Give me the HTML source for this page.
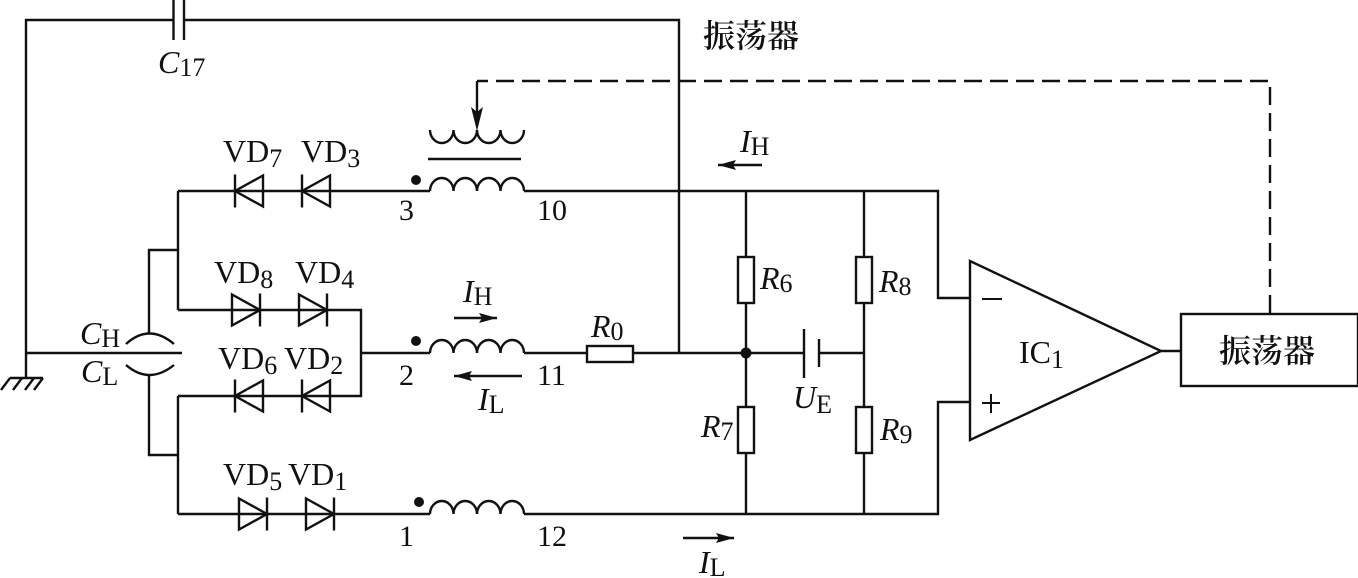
<!DOCTYPE html>
<html><head><meta charset="utf-8"><style>
html,body{margin:0;padding:0;background:#fff;width:1358px;height:578px;overflow:hidden}
svg{display:block}
text{font-family:"Liberation Serif","Noto Serif CJK SC",serif;font-size:30px;fill:#111}
.i{font-style:italic}
.s{font-size:26px}
.c{font-size:32px}
.v{font-size:32px}
</style></head><body>
<svg width="1358" height="578" viewBox="0 0 1358 578" xmlns="http://www.w3.org/2000/svg">
<defs>
<g id="dr"><path d="M0,-15.5V15.5L28,0Z" fill="none"/><path d="M28,-16.5V16.5" /></g>
<g id="dl"><path d="M28,-15.5V15.5L0,0Z" fill="none"/><path d="M0,-16.5V16.5"/></g>
</defs>
<g fill="none" stroke="#111" stroke-width="2.4">
<!-- top wire and capacitor C17 -->
<path d="M26,378V20H173M185,20H679V353"/>
<path d="M173.500,0V40M184,0V40"/>
<!-- ground -->
<path d="M26,353H182M10,378H43M10,378L1,390M22,378L13,390M34,378L25,390M43,378L34,390"/>
<!-- CH CL -->
<path d="M126,344Q149,323 174,344M126,365Q149,385 174,365"/>
<path d="M149,333V250H178M178,191V310M149,374V455H178M178,396V514"/>
<!-- rails -->
<path d="M178,191H430M178,310H361V396H178M361,353H430M178,514H430"/>
<!-- inductors -->
<path d="M430,191A11.750,13 0 0 1 453.500,191A11.750,13 0 0 1 477,191A11.750,13 0 0 1 500.500,191A11.750,13 0 0 1 524,191"/>
<path d="M430,353A11.750,13 0 0 1 453.500,353A11.750,13 0 0 1 477,353A11.750,13 0 0 1 500.500,353A11.750,13 0 0 1 524,353"/>
<path d="M430,514A11.750,13 0 0 1 453.500,514A11.750,13 0 0 1 477,514A11.750,13 0 0 1 500.500,514A11.750,13 0 0 1 524,514"/>
<path d="M430,130A11.750,13 0 0 0 453.500,130A11.750,13 0 0 0 477,130A11.750,13 0 0 0 500.500,130A11.750,13 0 0 0 524,130"/>
<path d="M428,159H521"/>
<!-- right wires -->
<path d="M524,191H938V298H970M524,353H587M633,353H804M819,353H864M524,514H938V402H970"/>
<path d="M746,191V514M864,191V514"/>
<path d="M804,329V378M819,339V367"/>
<!-- resistors -->
<rect x="587" y="346" width="46" height="16" fill="#fff"/>
<rect x="738" y="257" width="16" height="46" fill="#fff"/>
<rect x="738" y="407" width="16" height="46" fill="#fff"/>
<rect x="856" y="257" width="16" height="46" fill="#fff"/>
<rect x="856" y="407" width="16" height="46" fill="#fff"/>
<!-- diodes -->
<use href="#dl" x="235" y="191"/><use href="#dl" x="302" y="191"/>
<use href="#dr" x="232" y="310"/><use href="#dr" x="299" y="310"/>
<use href="#dl" x="235" y="396"/><use href="#dl" x="302" y="396"/>
<use href="#dr" x="239" y="514"/><use href="#dr" x="306" y="514"/>
<!-- op amp, box -->
<path d="M970,261V440L1161,351Z"/>
<path d="M1161,351H1181"/>
<rect x="1181" y="314" width="177" height="72"/>
<path d="M477,81H1270V314" stroke-dasharray="18 8" stroke-dashoffset="7"/>
<path d="M477,81V115"/>
<!-- current arrows -->
<path d="M718,165H762M454,318H497M454,376H522M683,538H734"/>
</g>
<!-- +/- -->
<path d="M982,299H1002M982,403H1000M991,394V413" stroke="#111" stroke-width="2" fill="none"/>
<g fill="#111" stroke="none">
<path d="M477,131L471,107L477,112L483,107Z"/>
<path d="M718,165L736,160L733,165L736,170Z"/>
<path d="M497,318L479,313L482,318L479,323Z"/>
<path d="M454,376L472,371L469,376L472,381Z"/>
<path d="M734,538L716,533L719,538L716,543Z"/>
<circle cx="416" cy="180" r="5"/>
<circle cx="416" cy="341" r="5"/>
<circle cx="419" cy="502" r="5"/>
<circle cx="746" cy="353" r="5.500"/>
</g>
<!-- labels -->
<text x="158" y="73"><tspan class="i c">C</tspan><tspan class="s" dy="3">17</tspan></text>
<text x="703" y="47" style="font-size:32px;font-weight:600">振荡器</text>
<text x="1219" y="362" style="font-size:32px;font-weight:600">振荡器</text>
<text x="223" y="162"><tspan class="v">VD</tspan><tspan class="s" dy="5">7</tspan></text>
<text x="301" y="162"><tspan class="v">VD</tspan><tspan class="s" dy="5">3</tspan></text>
<text x="214" y="283"><tspan class="v">VD</tspan><tspan class="s" dy="5">8</tspan></text>
<text x="295" y="283"><tspan class="v">VD</tspan><tspan class="s" dy="5">4</tspan></text>
<text x="218" y="369"><tspan class="v">VD</tspan><tspan class="s" dy="5">6</tspan></text>
<text x="284" y="369"><tspan class="v">VD</tspan><tspan class="s" dy="5">2</tspan></text>
<text x="223" y="485"><tspan class="v">VD</tspan><tspan class="s" dy="5">5</tspan></text>
<text x="288" y="485"><tspan class="v">VD</tspan><tspan class="s" dy="5">1</tspan></text>
<text x="80" y="344"><tspan class="i c">C</tspan><tspan class="s" dy="3">H</tspan></text>
<text x="81" y="382"><tspan class="i c">C</tspan><tspan class="s" dy="3">L</tspan></text>
<text x="399" y="220">3</text>
<text x="537" y="220">10</text>
<text x="399" y="385">2</text>
<text x="537" y="385">11</text>
<text x="399" y="546">1</text>
<text x="537" y="546">12</text>
<text x="740" y="152"><tspan class="i c">I</tspan><tspan class="s" dy="3">H</tspan></text>
<text x="463" y="302"><tspan class="i c">I</tspan><tspan class="s" dy="3">H</tspan></text>
<text x="478" y="410"><tspan class="i c">I</tspan><tspan class="s" dy="3">L</tspan></text>
<text x="699" y="573"><tspan class="i c">I</tspan><tspan class="s" dy="3">L</tspan></text>
<text x="591" y="337"><tspan class="i c">R</tspan><tspan class="s" dy="3">0</tspan></text>
<text x="760" y="289"><tspan class="i c">R</tspan><tspan class="s" dy="3">6</tspan></text>
<text x="701" y="437"><tspan class="i c">R</tspan><tspan class="s" dy="3">7</tspan></text>
<text x="879" y="292"><tspan class="i c">R</tspan><tspan class="s" dy="3">8</tspan></text>
<text x="880" y="440"><tspan class="i c">R</tspan><tspan class="s" dy="3">9</tspan></text>
<text x="793" y="408"><tspan class="i c">U</tspan><tspan class="s" dy="5">E</tspan></text>
<text x="1019" y="363"><tspan class="v">IC</tspan><tspan class="s" dy="5">1</tspan></text>
</svg>
</body></html>
